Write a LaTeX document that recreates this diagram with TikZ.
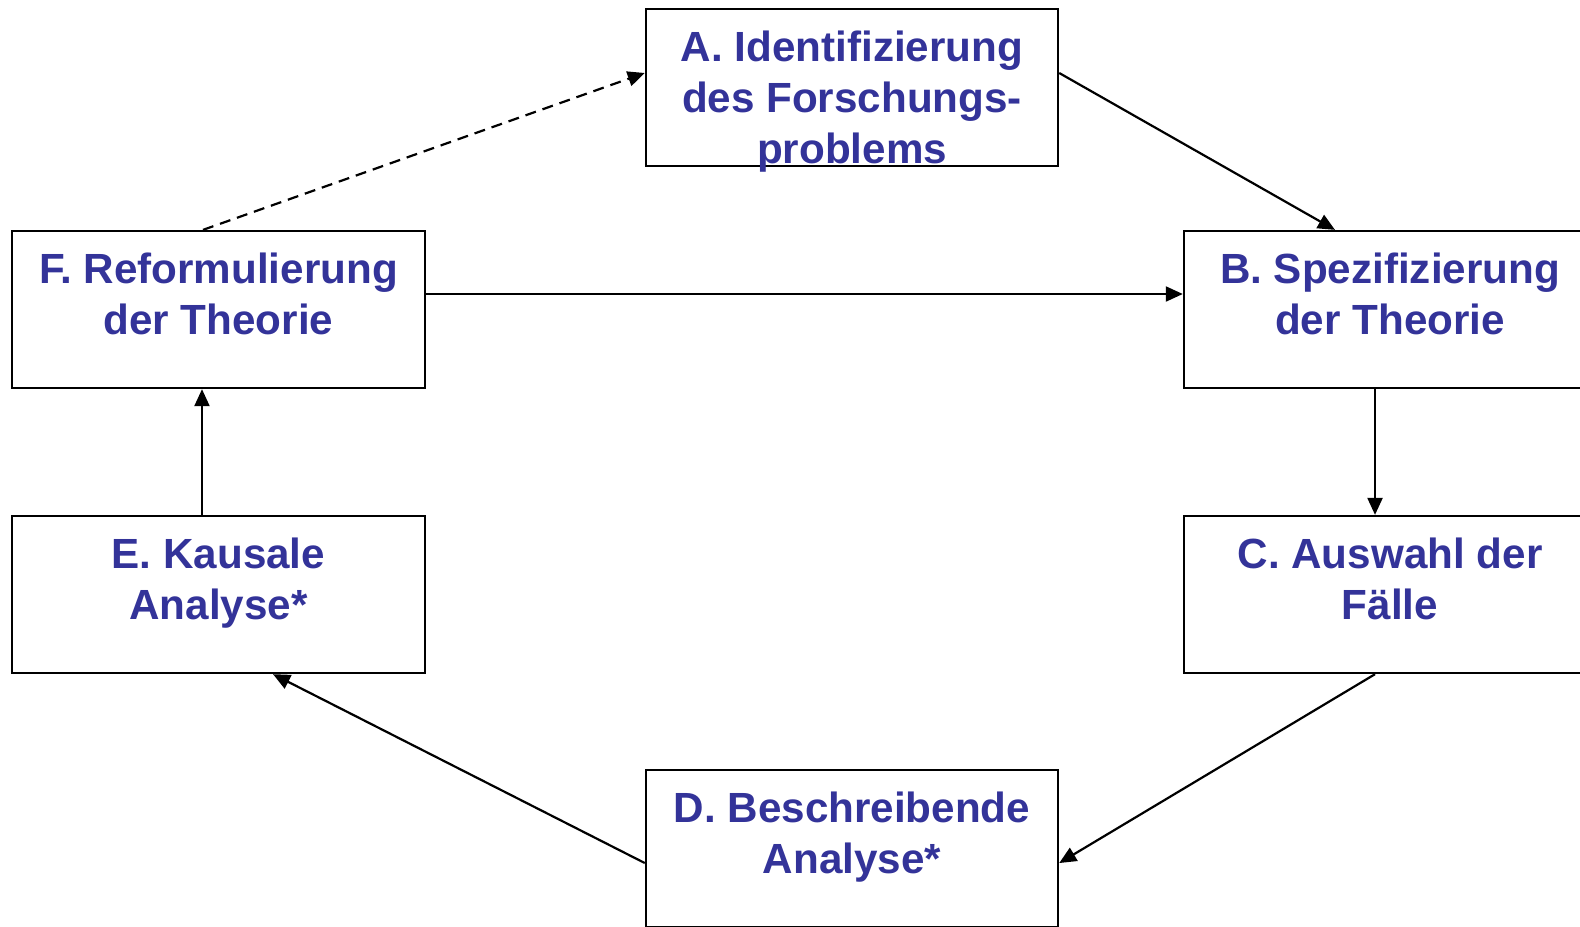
\documentclass[tikz,border=0pt]{standalone}
\usepackage{fontspec}
\setmainfont{Liberation Sans}
\usetikzlibrary{arrows.meta}
\definecolor{stepblue}{RGB}{51,51,153}

\begin{document}
\begin{tikzpicture}[x=0.01cm, y=-0.01cm, line width=0.22mm,
    >={Triangle[length=0.17cm, width=0.15cm]},
    stepbox/.style={draw=black, minimum width=4.12cm, minimum height=1.57cm, inner sep=0pt},
    steptext/.style={anchor=north, align=center, inner sep=0pt, text=stepblue,
        font=\fontsize{12pt}{14.5pt}\selectfont\bfseries}]
    \useasboundingbox (0,0) rectangle (1580,926);
    \clip (0,0) rectangle (1580,926);

    \node[stepbox] (a) at (852, 87.5) {};
    \node[stepbox] (b) at (1390, 309.5) {};
    \node[stepbox] (c) at (1390, 594.5) {};
    \node[stepbox] (d) at (852, 848.5) {};
    \node[stepbox] (e) at (218.5, 594.5) {};
    \node[stepbox] (f) at (218.5, 309.5) {};

    \node[steptext] (a-txt) at ([yshift=-0.22cm]a.north) {A. Identifizierung\\des Forschungs-\\problems};
    \node[steptext] (b-txt) at ([yshift=-0.22cm]b.north) {B. Spezifizierung\\der Theorie};
    \node[steptext] (c-txt) at ([yshift=-0.22cm]c.north) {C. Auswahl der\\Fälle};
    \node[steptext] (d-txt) at ([yshift=-0.22cm]d.north) {D. Beschreibende\\Analyse*};
    \node[steptext] (e-txt) at ([yshift=-0.22cm]e.north) {E. Kausale\\Analyse*};
    \node[steptext] (f-txt) at ([yshift=-0.22cm]f.north) {F. Reformulierung\\der Theorie};

    \draw[->] ([yshift=0.145cm]a.east) -- ([xshift=-0.55cm]b.north);
    \draw[->] ([xshift=-0.15cm]b.south) -- ([xshift=-0.15cm]c.north);
    \draw[->] ([xshift=-0.15cm]c.south) -- ([yshift=-0.145cm]d.east);
    \draw[->] ([yshift=-0.145cm]d.west) -- ([xshift=0.545cm]e.south);
    \draw[->] ([xshift=-0.165cm]e.north) -- ([xshift=-0.165cm]f.south);
    \draw[->] ([yshift=0.155cm]f.east) -- ([yshift=0.155cm]b.west);
    \draw[->, dash pattern=on 0.11cm off 0.07cm] ([xshift=-0.155cm]f.north) -- ([yshift=0.145cm]a.west);

\end{tikzpicture}
\end{document}
